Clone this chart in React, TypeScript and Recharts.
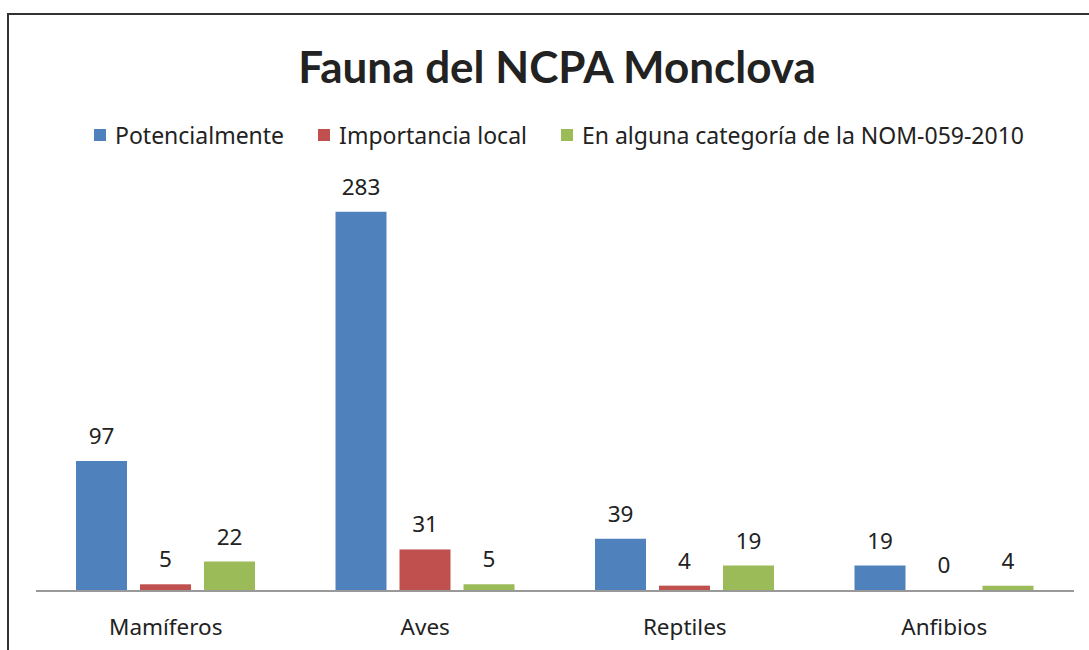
import { Bar, BarChart, LabelList, XAxis, YAxis } from "recharts"

const categories = ["Mamíferos", "Aves", "Reptiles", "Anfibios"]
const potencialmente = [97, 283, 39, 19]
const importanciaLocal = [5, 31, 4, 0]
const nom059 = [22, 5, 19, 4]

const seriesNames = ["Potencialmente", "Importancia local", "En alguna categoría de la NOM-059-2010"]
const colors = ["#4F81BD", "#C0504D", "#9BBB59"]

const data = categories.map((name, i) => ({
  name,
  pot: potencialmente[i],
  imp: importanciaLocal[i],
  nom: nom059[i],
}))

const titleFont = "Lato, 'Noto Sans', sans-serif"
const font = "'Noto Sans', sans-serif"

// custom label so the 0 bar still gets its number
const renderValue = (p: any) => {
  const x = Number(p.x) + Number(p.width) / 2
  const y = Number(p.y) + Math.min(Number(p.height), 0) - 17
  return (
    <text x={x} y={y} textAnchor="middle" fontSize={22.5} fill="#222" fontFamily={font}>
      {p.value}
    </text>
  )
}

// bars of value 0 keep a 1px slot (for the label) but draw nothing
const barShape = (fill: string) => (p: any) => {
  if (!p.value || (Array.isArray(p.value) && p.value[1] - p.value[0] === 0)) return <g />
  return <rect x={p.x} y={p.y} width={p.width} height={p.height} fill={fill} />
}

export default function App() {
  return (
    <div
      style={{
        position: "absolute",
        left: 7,
        top: 13,
        width: 1090,
        height: 645,
        borderLeft: "2px solid #333",
        borderTop: "2px solid #333",
        fontFamily: font,
        color: "#222",
      }}
    >
      <div
        style={{
          position: "absolute",
          left: 0,
          top: 27,
          width: 1096,
          textAlign: "center",
          fontSize: 44,
          fontWeight: 700,
          lineHeight: "48px",
          fontFamily: titleFont,
        }}
      >
        Fauna del NCPA Monclova
      </div>
      <div
        style={{
          position: "absolute",
          left: 85,
          top: 106,
          display: "flex",
          alignItems: "center",
          fontSize: 23,
          lineHeight: "28px",
        }}
      >
        {seriesNames.map((s, i) => (
          <div key={s} style={{ display: "flex", alignItems: "center", marginRight: 34 }}>
            <span style={{ width: 12, height: 12, background: colors[i], marginRight: 9 }} />
            <span>{s}</span>
          </div>
        ))}
      </div>
      <div style={{ position: "absolute", left: 0, top: 0 }}>
        <BarChart
          width={1080}
          height={635}
          data={data}
          margin={{ top: 174, right: 15, left: 27, bottom: 0 }}
          barSize={51}
          barGap={13}
        >
          <XAxis
            dataKey="name"
            height={59}
            tickLine={false}
            axisLine={{ stroke: "#999", strokeWidth: 2 }}
            tickMargin={22}
            tick={{ fontSize: 22.5, fill: "#222", fontFamily: font }}
          />
          <YAxis hide domain={[0, 300]} />
          <Bar dataKey="pot" fill={colors[0]} isAnimationActive={false}>
            <LabelList dataKey="pot" content={renderValue} />
          </Bar>
          <Bar dataKey="imp" fill={colors[1]} minPointSize={1} shape={barShape(colors[1])} isAnimationActive={false}>
            <LabelList dataKey="imp" content={renderValue} />
          </Bar>
          <Bar dataKey="nom" fill={colors[2]} isAnimationActive={false}>
            <LabelList dataKey="nom" content={renderValue} />
          </Bar>
        </BarChart>
      </div>
    </div>
  )
}
